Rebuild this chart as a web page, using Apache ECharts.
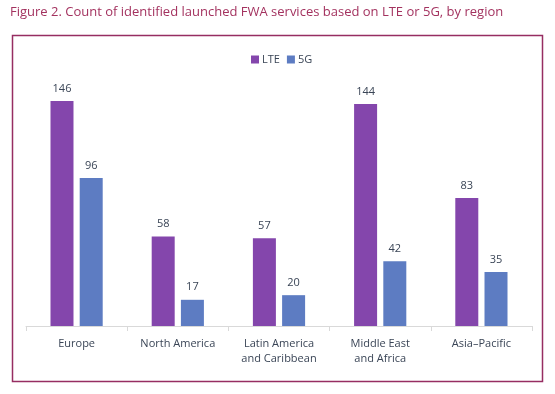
<!DOCTYPE html>
<html><head><meta charset="utf-8">
<script src="https://cdn.jsdelivr.net/npm/echarts@6/dist/echarts.min.js"></script>
<style>html,body{margin:0;padding:0;background:#fff}#c{width:555px;height:394px}</style>
</head><body><div id="c"></div>
<script>
const categories = ['Europe', 'North America', 'Latin America\nand Caribbean', 'Middle East\nand Africa', 'Asia\u2013Pacific'];
const lteValues = [146, 58, 57, 144, 83];
const fiveGValues = [96, 17, 20, 42, 35];
const seriesNames = ['LTE', '5G'];
const titleText = 'Figure 2. Count of identified launched FWA services based on LTE or 5G, by region';

const font = '"Open Sans", "Noto Sans", sans-serif';
const chart = echarts.init(document.getElementById('c'), null, {renderer: 'canvas'});
chart.setOption({
  animation: false,
  textStyle: {fontFamily: font},
  graphic: [
    {type: 'text', left: 10, top: 6, style: {text: titleText, font: '13px ' + font, fill: '#a3325f'}},
    {type: 'rect', shape: {x: 12.5, y: 35.5, width: 530, height: 346}, style: {fill: 'none', stroke: '#962d62', lineWidth: 1.5}}
  ],
  legend: {
    top: 49, left: 246, itemWidth: 8, itemHeight: 8, itemGap: 7,
    icon: 'rect',
    textStyle: {fontSize: 11, color: '#3a4556', fontFamily: font, padding: [0, 0, 0, -2]},
    data: seriesNames
  },
  grid: {left: 26, right: 23, top: 79.4, bottom: 68},
  xAxis: {
    type: 'category', data: categories,
    axisLine: {lineStyle: {color: '#d9d9d9'}},
    axisTick: {show: true, length: 5, lineStyle: {color: '#d9d9d9'}},
    axisLabel: {color: '#3a4556', fontSize: 11, margin: 10, lineHeight: 15, fontFamily: font, interval: 0}
  },
  yAxis: {type: 'value', min: 0, max: 160, show: false, splitLine: {show: false}},
  series: [
    {name: seriesNames[0], type: 'bar', data: lteValues, barWidth: 23, barGap: '27%',
     itemStyle: {color: '#8446ac'},
     label: {show: true, position: 'top', distance: 7, color: '#3a4556', fontSize: 11, fontFamily: font}},
    {name: seriesNames[1], type: 'bar', data: fiveGValues, barWidth: 23, barGap: '27%',
     itemStyle: {color: '#5d7cc2'},
     label: {show: true, position: 'top', distance: 7, color: '#3a4556', fontSize: 11, fontFamily: font}}
  ]
});
</script></body></html>
